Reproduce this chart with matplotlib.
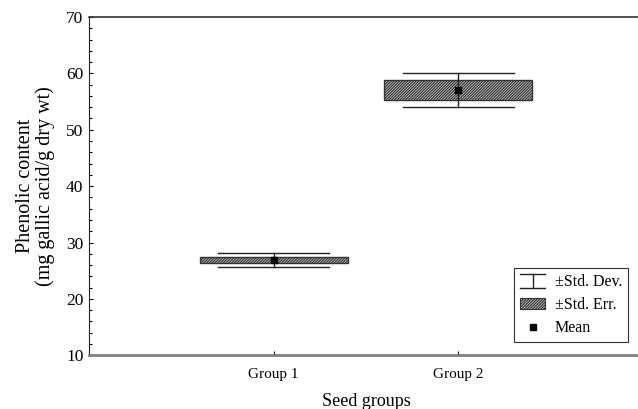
"""Phenolic content by seed group: mean, +/-SE box, +/-SD whiskers."""

import numpy as np
import matplotlib
matplotlib.use("Agg")
import matplotlib.pyplot as plt
from matplotlib.patches import Rectangle, Patch
from matplotlib.lines import Line2D
from matplotlib.legend_handler import HandlerBase

groups = ["Group 1", "Group 2"]
means = [26.9, 57.0]
std_err = [0.6, 1.8]
std_dev = [1.2, 3.0]

plt.rcParams["font.family"] = ["Liberation Serif", "DejaVu Serif"]
plt.rcParams["hatch.linewidth"] = 1.0
plt.rcParams["hatch.color"] = "#2a2a2a"

HATCH = "/" * 12


class IBeamHandler(HandlerBase):
    """Legend symbol for the +/-SD whisker: vertical bar with two caps."""

    def create_artists(self, legend, orig_handle, xdescent, ydescent,
                       width, height, fontsize, trans):
        cx = width / 2 - xdescent
        y0 = -ydescent - height * 0.15
        y1 = -ydescent + height * 1.1
        kw = dict(color="#222222", lw=1.0, transform=trans)
        return [Line2D([cx, cx], [y0, y1], **kw),
                Line2D([0, width], [y0, y0], **kw),
                Line2D([0, width], [y1, y1], **kw)]


fig = plt.figure(figsize=(6.38, 4.09), dpi=100)
ax = fig.add_axes([89 / 638, 1 - 355.3 / 409, (643 - 89) / 638, (355.3 - 17) / 409])

x_pos = np.arange(1, len(groups) + 1)
box_w = 0.8
cap_w = 0.6

for x, m, se, sd in zip(x_pos, means, std_err, std_dev):
    ax.add_patch(Rectangle((x - box_w / 2, m - se), box_w, 2 * se,
                           facecolor="white", edgecolor="#333333",
                           hatch=HATCH, linewidth=1.0, zorder=2))
    ax.plot([x, x], [m - sd, m + sd], color="#222222", lw=1.0, zorder=3)
    ax.plot([x - cap_w / 2, x + cap_w / 2], [m + sd, m + sd], color="#222222", lw=1.0, zorder=3)
    ax.plot([x - cap_w / 2, x + cap_w / 2], [m - sd, m - sd], color="#222222", lw=1.0, zorder=3)
    ax.plot(x, m, marker="s", color="black", markersize=4.5, zorder=4)

ax.set_xlim(0, 3)
ax.set_ylim(10, 70)
ax.set_xticks(x_pos)
ax.set_xticklabels(groups, fontsize=11)
ax.set_yticks(np.arange(10, 71, 10))
ax.set_yticks(np.arange(10, 71, 2), minor=True)
ax.tick_params(axis="y", which="major", direction="in", length=3, labelsize=12.5, width=0.8, pad=4)
ax.tick_params(axis="y", which="minor", direction="in", length=2, width=0.8)
ax.tick_params(axis="x", direction="in", length=3, width=0.8, pad=9)

ax.spines["right"].set_visible(False)
ax.spines["left"].set_color("#222222")
ax.spines["top"].set_color("#333333")
ax.spines["top"].set_linewidth(1.2)
ax.spines["bottom"].set_color("#808080")
ax.spines["bottom"].set_linewidth(2.0)

ax.set_xlabel("Seed groups", fontsize=13, labelpad=9)
ax.set_ylabel("Phenolic content\n(mg gallic acid/g dry wt)", fontsize=14.5, labelpad=8,
              linespacing=1.0)

sd_handle = Line2D([], [])
se_handle = Patch(facecolor="white", edgecolor="#333333", hatch=HATCH, linewidth=0.8)
mean_handle = Line2D([], [], marker="s", color="black", linestyle="none", markersize=4)

leg = ax.legend([sd_handle, se_handle, mean_handle], ["\u00b1Std. Dev.", "\u00b1Std. Err.", "Mean"],
                handler_map={sd_handle: IBeamHandler()},
                loc="lower right", bbox_to_anchor=(628 / 638, 1 - 342 / 409),
                bbox_transform=fig.transFigure, fontsize=11.5, fancybox=False,
                framealpha=1, edgecolor="#333333", borderpad=0.35, labelspacing=0.45,
                handlelength=1.6, handletextpad=0.6, borderaxespad=0)
leg.get_frame().set_linewidth(0.8)

fig.savefig("out.png", dpi=100)
